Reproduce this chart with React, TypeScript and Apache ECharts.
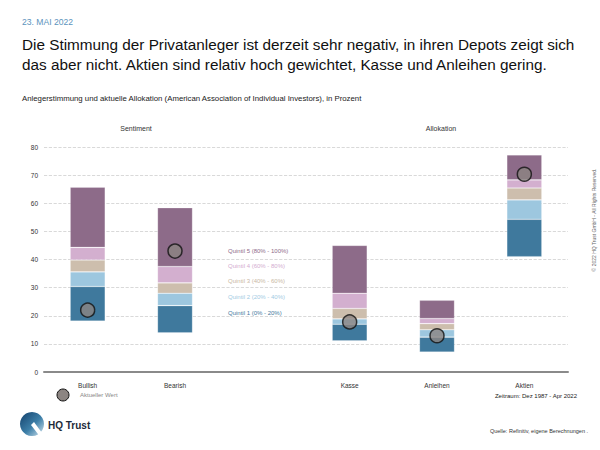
import React, { useEffect, useRef } from "react";
import * as echarts from "echarts";

const categories = ["Bullish", "Bearish", "", "Kasse", "Anleihen", "Aktien"];
// Quintile boundaries: min, 20%, 40%, 60%, 80%, max
const qMin = [18.1, 13.9, null, 11.1, 7.1, 41.0];
const q20 = [30.4, 23.6, null, 17.0, 12.4, 54.3];
const q40 = [35.6, 28.0, null, 18.9, 15.0, 61.2];
const q60 = [39.8, 31.7, null, 22.6, 17.2, 65.4];
const q80 = [44.3, 37.5, null, 28.0, 19.0, 68.3];
const qMax = [65.7, 58.4, null, 45.0, 25.5, 77.2];
const currentValues = [22.0, 43.0, null, 17.8, 12.9, 70.3];

const quintileLabels = [
  "Quintil 1 (0% - 20%)",
  "Quintil 2 (20% - 40%)",
  "Quintil 3 (40% - 60%)",
  "Quintil 4 (60% - 80%)",
  "Quintil 5 (80% - 100%)",
];
const quintileColors = ["#3f799d", "#9dc7df", "#cdbead", "#d3afcf", "#8d6b89"];
const legendTextColors = ["#3f799d", "#9fcbe3", "#c9b8a4", "#d3acd0", "#8d6b89"];
const yTicks = { min: 0, max: 80, interval: 10 };

const FONT = "'Liberation Sans', Arial, Helvetica, sans-serif";

export default function App() {
  const ref = useRef<HTMLDivElement>(null);
  useEffect(() => {
    document.body.style.margin = "0";
    const chart = echarts.init(ref.current!, null, { renderer: "svg" });
    const bounds = [qMin, q20, q40, q60, q80, qMax];
    const diff = (i: number) =>
      categories.map((_, k) => {
        const a = bounds[i][k];
        const b = bounds[i + 1][k];
        return a == null || b == null ? "-" : +(b - a).toFixed(2);
      });
    const series: any[] = [
      {
        type: "bar",
        stack: "q",
        barWidth: 35,
        silent: true,
        itemStyle: { color: "transparent" },
        data: qMin.map((v) => (v == null ? "-" : v)),
      },
    ];
    for (let i = 0; i < 5; i++) {
      series.push({
        type: "bar",
        stack: "q",
        barWidth: 35,
        name: quintileLabels[i],
        itemStyle: {
          color: quintileColors[i],
          borderColor: "rgba(255,255,255,0.35)",
          borderWidth: 0.6,
        },
        data: diff(i),
      });
    }
    series.push({
      type: "scatter",
      name: "Aktueller Wert",
      symbolSize: 14,
      z: 5,
      itemStyle: { color: "#8c8582", borderColor: "#111", borderWidth: 1.5 },
      data: currentValues.map((v) => (v == null ? "-" : v)),
    });

    const legendY = [313, 297, 281, 266, 251];
    const graphic: any[] = [
      { type: "text", left: 22, top: 17, style: { text: "23. MAI 2022", fontSize: 8.6, fill: "#5b93bd", fontFamily: FONT } },
      {
        type: "text",
        left: 22,
        top: 35,
        style: {
          text:
            "Die Stimmung der Privatanleger ist derzeit sehr negativ, in ihren Depots zeigt sich\ndas aber nicht. Aktien sind relativ hoch gewichtet, Kasse und Anleihen gering.",
          fontSize: 15.3,
          lineHeight: 19.5,
          fill: "#111",
          fontFamily: FONT,
        },
      },
      {
        type: "text",
        left: 22,
        top: 94,
        style: {
          text: "Anlegerstimmung und aktuelle Allokation (American Association of Individual Investors), in Prozent",
          fontSize: 7.8,
          fill: "#222",
          fontFamily: FONT,
        },
      },
      { type: "text", x: 136, y: 128, style: { text: "Sentiment", fontSize: 7, fill: "#333", fontFamily: FONT, align: "center", verticalAlign: "middle" } },
      { type: "text", x: 441, y: 128, style: { text: "Allokation", fontSize: 7, fill: "#333", fontFamily: FONT, align: "center", verticalAlign: "middle" } },
      { type: "circle", shape: { cx: 63, cy: 395, r: 6 }, style: { fill: "#8c8582", stroke: "#111", lineWidth: 1 } },
      { type: "text", x: 80, y: 395, style: { text: "Aktueller Wert", fontSize: 6, fill: "#888", fontFamily: FONT, verticalAlign: "middle" } },
      { type: "text", x: 577, y: 396, style: { text: "Zeitraum: Dez 1987 - Apr 2022", fontSize: 6, fill: "#222", fontFamily: FONT, align: "right", verticalAlign: "middle" } },
      { type: "text", x: 588, y: 431, style: { text: "Quelle: Refinitiv, eigene Berechnungen .", fontSize: 5.5, fill: "#333", fontFamily: FONT, align: "right", verticalAlign: "middle" } },
      {
        type: "text",
        x: 594,
        y: 220,
        rotation: Math.PI / 2,
        style: { text: "© 2022 HQ Trust GmbH - All Rights Reserved.", fontSize: 5, fill: "#666", fontFamily: FONT, align: "center", verticalAlign: "middle" },
      },
      {
        type: "circle",
        shape: { cx: 32, cy: 424, r: 12 },
        style: {
          fill: new echarts.graphic.LinearGradient(0, 0, 1, 1, [
            { offset: 0, color: "#12406b" },
            { offset: 0.55, color: "#3d7fa8" },
            { offset: 1, color: "#d5e6f0" },
          ]),
        },
      },
      { type: "polygon", shape: { points: [[31, 425], [34, 422], [45, 437], [41, 438]] }, style: { fill: "#fff" } },
      { type: "text", x: 48, y: 425, style: { text: "HQ Trust", fontSize: 10, fontWeight: "bold", fill: "#1d2a3a", fontFamily: FONT, verticalAlign: "middle" } },
    ];
    quintileLabels.forEach((t, i) => {
      graphic.push({
        type: "text",
        x: 228,
        y: legendY[i],
        style: { text: t, fontSize: 6, fill: legendTextColors[i], fontFamily: FONT, verticalAlign: "middle" },
      });
    });

    chart.setOption({
      animation: false,
      textStyle: { fontFamily: FONT },
      grid: { left: 44, right: 32, top: 147, bottom: 78, containLabel: false },
      xAxis: {
        type: "category",
        data: categories,
        axisLine: { lineStyle: { color: "#8a8a8a", width: 2 } },
        axisTick: { show: false },
        axisLabel: { fontSize: 6.5, color: "#333", margin: 10 },
      },
      yAxis: {
        type: "value",
        min: yTicks.min,
        max: yTicks.max,
        interval: yTicks.interval,
        axisLine: { show: false },
        axisTick: { show: false },
        axisLabel: { fontSize: 6.5, color: "#333", margin: 6 },
        splitLine: { lineStyle: { color: "#cfcfcf", type: "dashed", width: 0.8 } },
      },
      series,
      graphic,
    });
    return () => chart.dispose();
  }, []);
  return <div ref={ref} style={{ width: 600, height: 450, position: "absolute", left: 0, top: 0 }} />;
}
